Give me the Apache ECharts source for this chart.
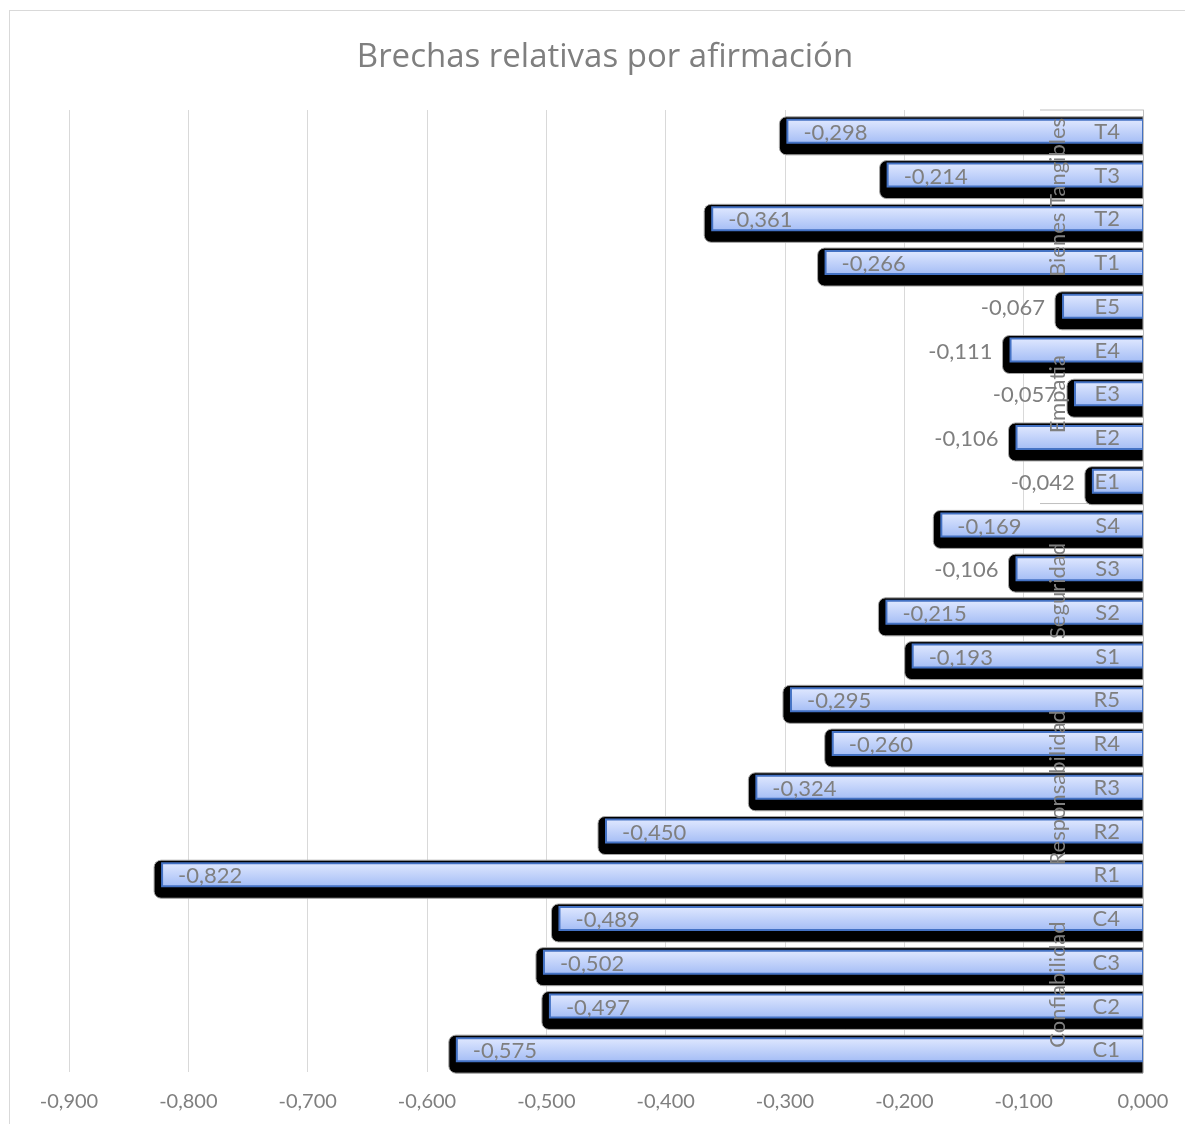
<!DOCTYPE html>
<html>
<head>
<meta charset="utf-8">
<script src="https://cdn.jsdelivr.net/npm/echarts@6/dist/echarts.min.js"></script>
<style>
  body { margin: 0; background: #fff; }
  #frame { position: absolute; left: 9px; top: 10px; width: 1200px; height: 1200px; border: 1px solid #d9d9d9; }
  #chart { position: absolute; left: 0; top: 0; width: 1185px; height: 1124px; }
</style>
</head>
<body>
<div id="frame"></div>
<div id="chart"></div>
<script>
// categories listed bottom to top, as the category axis runs
const categories = ['C1', 'C2', 'C3', 'C4', 'R1', 'R2', 'R3', 'R4', 'R5', 'S1', 'S2', 'S3', 'S4', 'E1', 'E2', 'E3', 'E4', 'E5', 'T1', 'T2', 'T3', 'T4'];
const gaps = [-0.575, -0.497, -0.502, -0.489, -0.822, -0.450, -0.324, -0.260, -0.295, -0.193, -0.215, -0.106, -0.169, -0.042, -0.106, -0.057, -0.111, -0.067, -0.266, -0.361, -0.214, -0.298];
const groupNames = ['Confiabilidad', 'Responsabilidad', 'Seguridad', 'Empatia', 'Bienes Tangibles'];
const groupSizes = [4, 5, 4, 5, 4];

const FONT = 'Lato, sans-serif';
const TEXT = '#7f7f7f';

const fmt = v => v.toFixed(3).replace('.', ',');

const barData = gaps.map((v, i) => [v, i]);

let groupData = [];
let start = 0;
groupSizes.forEach((n, g) => {
  groupData.push([0, start, start + n - 1, g]);
  start += n;
});

const chart = echarts.init(document.getElementById('chart'));

const barFill = new echarts.graphic.LinearGradient(0, 0, 0, 1, [
  { offset: 0, color: '#e1e9ff' },
  { offset: 1, color: '#a3bcf5' }
]);

function renderBar(params, api) {
  const v = api.value(0);
  const idx = api.value(1);
  const end = api.coord([v, idx]);
  const base = api.coord([0, idx]);
  const yc = end[1];
  const w = base[0] - end[0];
  // short bars get their label outside, to the left of the shadow
  const inside = Math.abs(v) >= 0.15;
  return {
    type: 'group',
    children: [
      {
        type: 'rect',
        shape: { x: end[0] - 8, y: yc - 15, width: w + 8, height: 38, r: [7, 0, 0, 7] },
        style: { fill: '#000', stroke: '#a6a6a6', lineWidth: 1 }
      },
      {
        type: 'rect',
        shape: { x: end[0], y: yc - 12, width: w, height: 23 },
        style: { fill: barFill, stroke: '#4472c4', lineWidth: 2 }
      },
      {
        type: 'text',
        x: inside ? end[0] + 16 : end[0] - 18,
        y: yc + 1,
        style: {
          text: fmt(v),
          align: inside ? 'left' : 'right',
          verticalAlign: 'middle',
          fill: TEXT,
          font: '22px ' + FONT
        }
      }
    ]
  };
}

function groupBounds(api) {
  const s = api.value(1), e = api.value(2);
  const band = api.size([0, 1])[1];
  const x0 = api.coord([0, s])[0];
  const bottom = api.coord([0, s])[1] + band / 2;
  const top = api.coord([0, e])[1] - band / 2;
  return { x0, bottom, top };
}

function renderSeparators(params, api) {
  const b = groupBounds(api);
  const lines = [
    { type: 'line', shape: { x1: b.x0 - 103, y1: b.bottom, x2: b.x0, y2: b.bottom }, style: { stroke: '#bfbfbf', lineWidth: 1 } }
  ];
  if (params.dataIndex === params.dataInsideLength - 1) {
    lines.push({ type: 'line', shape: { x1: b.x0 - 103, y1: b.top, x2: b.x0, y2: b.top }, style: { stroke: '#bfbfbf', lineWidth: 1 } });
  }
  return { type: 'group', children: lines };
}

function renderGroupLabel(params, api) {
  const b = groupBounds(api);
  return {
    type: 'text',
    x: b.x0 - 85,
    y: (b.top + b.bottom) / 2,
    rotation: Math.PI / 2,
    style: {
      text: groupNames[api.value(3)],
      align: 'center',
      verticalAlign: 'middle',
      fill: TEXT,
      font: '22px ' + FONT
    }
  };
}

chart.setOption({
  animation: false,
  title: {
    text: 'Brechas relativas por afirmación',
    left: 600,
    top: 36,
    textAlign: 'center',
    textStyle: { color: TEXT, fontFamily: '"Open Sans", sans-serif', fontSize: 33, fontWeight: 'normal' }
  },
  grid: { left: 69, right: 42, top: 110, bottom: 52 },
  xAxis: {
    type: 'value',
    min: -0.9,
    max: 0,
    interval: 0.1,
    axisLine: { show: false },
    axisTick: { show: false },
    splitLine: { lineStyle: { color: '#d9d9d9', width: 1 } },
    axisLabel: { formatter: fmt, color: TEXT, fontFamily: FONT, fontSize: 20, margin: 20 }
  },
  yAxis: {
    type: 'category',
    data: categories,
    position: 'right',
    z: 10,
    axisLine: { lineStyle: { color: '#bfbfbf', width: 1 } },
    axisTick: { show: false },
    axisLabel: { inside: true, margin: 23, color: TEXT, fontFamily: FONT, fontSize: 22 }
  },
  series: [
    {
      type: 'custom',
      z: 1,
      renderItem: renderSeparators,
      encode: { x: 0, y: 1 },
      data: groupData
    },
    {
      type: 'custom',
      z: 2,
      renderItem: renderBar,
      encode: { x: 0, y: 1 },
      data: barData
    },
    {
      type: 'custom',
      z: 5,
      renderItem: renderGroupLabel,
      encode: { x: 0, y: 1 },
      data: groupData
    }
  ]
});
</script>
</body>
</html>
